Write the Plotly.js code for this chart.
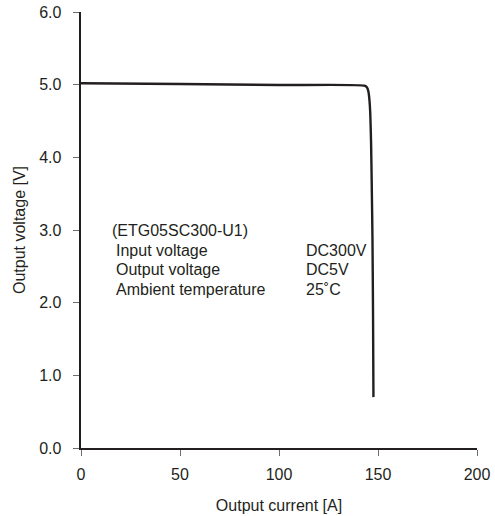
<!DOCTYPE html>
<html>
<head>
<meta charset="utf-8">
<script src="https://cdn.plot.ly/plotly-3.0.1.min.js"></script>
<style>html,body{margin:0;padding:0;background:#fff;}#chart{width:495px;height:516px;}</style>
</head>
<body>
<div id="chart"></div>
<script>
// Output current [A]
var currentA = [0, 50, 100, 143.5, 144.5, 145.2, 145.7, 146.1, 146.5, 146.8, 147.2, 147.5, 147.7];
// Output voltage [V]
var voltageV = [5.02, 5.01, 4.995, 4.985, 4.96, 4.9, 4.78, 4.6, 4.2, 3.7, 2.9, 1.8, 0.7];

var xTicks = [0, 50, 100, 150, 200];
var yTicks = [0, 1, 2, 3, 4, 5, 6];
var yTickText = ['0.0', '1.0', '2.0', '3.0', '4.0', '5.0', '6.0'];

var noteTitle = '(ETG05SC300-U1)';
var noteLabels = ['Input voltage', 'Output voltage', 'Ambient temperature'];
var noteValues = ['DC300V', 'DC5V', '25˚C'];

var ink = '#231f20';
var font = {family: 'Liberation Sans, Arial, sans-serif', size: 16, color: ink};

var annotations = [{
  x: 14.5, y: 3.0, xref: 'x', yref: 'y', text: noteTitle, showarrow: false,
  xanchor: 'left', yanchor: 'middle', font: font
}];
var rowY = [2.72, 2.45, 2.18];
for (var i = 0; i < noteLabels.length; i++) {
  annotations.push({x: 16.5, y: rowY[i], xref: 'x', yref: 'y', text: noteLabels[i], showarrow: false,
    xanchor: 'left', yanchor: 'middle', font: font});
  annotations.push({x: 112.5, y: rowY[i], xref: 'x', yref: 'y', text: noteValues[i], showarrow: false,
    xanchor: 'left', yanchor: 'middle', font: font});
}

Plotly.newPlot('chart', [{
  x: currentA, y: voltageV, type: 'scatter', mode: 'lines',
  line: {color: ink, width: 2.4, shape: 'spline', smoothing: 0.6},
  hoverinfo: 'none'
}], {
  width: 495, height: 516,
  margin: {l: 81, r: 18, t: 12, b: 68},
  paper_bgcolor: '#fff', plot_bgcolor: '#fff',
  showlegend: false,
  font: font,
  xaxis: {
    range: [0, 200], tickvals: xTicks, ticks: 'outside', ticklen: 6, tickwidth: 1, tickcolor: '#6d6e71',
    ticklabelstandoff: 4,
    showline: true, linecolor: ink, linewidth: 2.4, showgrid: false, zeroline: false,
    tickfont: font,
    title: {text: 'Output current [A]', font: font, standoff: 18}
  },
  yaxis: {
    range: [0, 6], tickvals: yTicks, ticktext: yTickText, ticks: 'outside', ticklen: 6, tickwidth: 1, tickcolor: '#6d6e71',
    ticklabelstandoff: 8,
    showline: true, linecolor: ink, linewidth: 2.4, showgrid: false, zeroline: false,
    tickfont: font,
    title: {text: 'Output voltage [V]', font: font, standoff: 10}
  },
  annotations: annotations
}, {staticPlot: true});
</script>
</body>
</html>
